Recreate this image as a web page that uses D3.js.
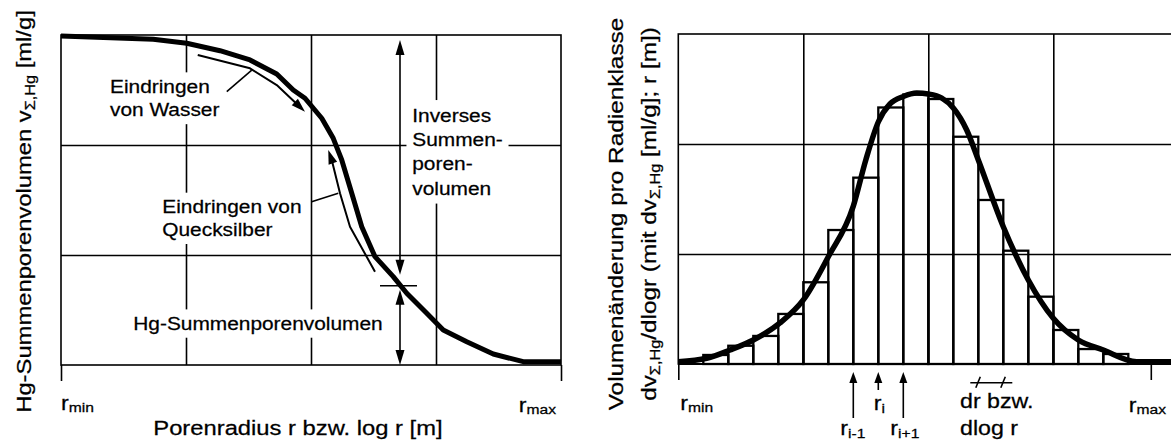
<!DOCTYPE html>
<html>
<head>
<meta charset="utf-8">
<script src="https://cdn.jsdelivr.net/npm/d3@7"></script>
<style>
  html, body { margin: 0; padding: 0; background: #fff; }
  svg text { font-family: "Liberation Sans", Arial, Helvetica, sans-serif; fill: #000; stroke: #000; stroke-width: 0.25px; white-space: pre; }
</style>
</head>
<body>
<svg id="chart" width="1171" height="443"></svg>
<script>
// ---------------- data ----------------
// Left panel: cumulative pore volume vs. log radius (x: 0..4 grid columns, y: 0..3 grid rows)
const cumX = [0, 0.738, 1.006, 1.272, 1.512, 1.726, 1.858, 1.952, 2.086, 2.178, 2.246, 2.326, 2.406, 2.512, 2.658, 2.766, 2.926, 3.058, 3.246, 3.458, 3.698, 4.0];
const cumY = [2.99, 2.961, 2.925, 2.857, 2.773, 2.645, 2.5, 2.425, 2.243, 2.061, 1.864, 1.561, 1.257, 0.985, 0.803, 0.652, 0.47, 0.318, 0.212, 0.1, 0.03, 0.03];

// water intrusion path (arrow at the last point)
const waterX = [1.094, 1.512, 1.726, 1.952];
const waterY = [2.818, 2.697, 2.545, 2.303];
// mercury intrusion path (arrow at the last point)
const mercuryX = [2.512, 2.312, 2.232, 2.166, 2.138];
const mercuryY = [0.848, 1.257, 1.561, 1.864, 1.955];

// point on the curve where inverse and Hg cumulative volumes split
const splitX = 2.712;
const splitY = 0.72;

// Right panel: volume change per radius class (20 classes, y: 0..3 grid rows)
const binValues = [0, 0.082, 0.166, 0.255, 0.455, 0.743, 1.218, 1.694, 2.332, 2.45, 2.409, 2.066, 1.491, 1.03, 0.612, 0.309, 0.136, 0.091, 0, 0];
const distX = [0, 1.136, 2.068, 3, 4.068, 5, 6, 7, 7.5, 8, 8.468, 9, 9.536, 10, 10.536, 11, 11.536, 12, 13, 14, 15, 16, 17, 18.336, 20];
const distY = [0.021, 0.052, 0.127, 0.218, 0.373, 0.582, 0.975, 1.436, 1.855, 2.2, 2.364, 2.432, 2.464, 2.455, 2.418, 2.327, 2.127, 1.855, 1.248, 0.764, 0.415, 0.218, 0.127, 0.021, 0.021];

// axis end positions and labels
const leftEnds = [0, 4];
const rightEnds = [0, 18.9];
const endSubs = ["min", "max"];
// marked class boundaries r(i-1), r(i), r(i+1)
const markEdges = [7, 8, 9];
const markSubs = ["i-1", "i", "i+1"];

// ---------------- layout ----------------
const SX = 1.16;              // horizontal stretch of the typeface
const LINE_W = 1.6;
const svg = d3.select("#chart");

const xL = d3.scaleLinear().domain([0, 4]).range([61, 561]);
const yL = d3.scaleLinear().domain([0, 3]).range([365, 35]);
const xR = d3.scaleLinear().domain([0, 20]).range([678.3, 1178.3]);
const yR = d3.scaleLinear().domain([0, 3]).range([364, 34]);

// text with optional subscripts; a segment given as [str] is a subscript
function richText(parent, x, y, lines, o) {
  const size = o.size, sub = o.subSize || Math.round(size * 0.68);
  const shift = o.shift != null ? o.shift : 4, lh = o.lh || size * 1.3;
  const g = parent.append("g")
    .attr("transform", `translate(${x},${y})${o.rotate ? ` rotate(${o.rotate})` : ""} scale(${SX},1)`);
  const t = g.append("text").attr("font-size", size).attr("text-anchor", o.anchor || "start");
  lines.forEach((line, i) => {
    let cur = 0;
    line.forEach((seg, j) => {
      const isSub = Array.isArray(seg);
      const ts = t.append("tspan").text(isSub ? seg[0] : seg);
      const target = isSub ? shift : 0;
      if (j === 0) ts.attr("x", 0).attr("y", i * lh + target);
      else ts.attr("dy", target - cur);
      cur = target;
      if (isSub) ts.attr("font-size", sub);
    });
  });
  if (o.bg != null) {
    const b = t.node().getBBox(), p = o.bg;
    g.insert("rect", "text")
      .attr("x", b.x - p).attr("y", b.y - p)
      .attr("width", b.width + 2 * p).attr("height", b.height + 2 * p)
      .attr("fill", "#fff");
  }
  return g;
}

function arrowHead(parent, tip, from, len, half) {
  const dx = tip[0] - from[0], dy = tip[1] - from[1], d = Math.hypot(dx, dy);
  const ux = dx / d, uy = dy / d;
  const bx = tip[0] - ux * len, by = tip[1] - uy * len;
  parent.append("path")
    .attr("d", `M${tip[0]},${tip[1]}L${bx - uy * half},${by + ux * half}L${bx + uy * half},${by - ux * half}Z`)
    .attr("fill", "#000");
  return [tip[0] - ux * len * 0.7, tip[1] - uy * len * 0.7];
}

function grid(g, xs, ys, xt, yt) {
  const h = ys(0) - ys(3), w = xs.range()[1] - xs.range()[0];
  g.append("g").attr("transform", `translate(0,${ys(0)})`)
    .call(d3.axisBottom(xs).tickValues(xt).tickSize(-h).tickFormat(""))
    .call(a => a.select(".domain").remove());
  g.append("g").attr("transform", `translate(${xs.range()[0]},0)`)
    .call(d3.axisLeft(ys).tickValues(yt).tickSize(-w).tickFormat(""))
    .call(a => a.select(".domain").remove());
  g.selectAll(".tick line").attr("stroke", "#000").attr("stroke-width", LINE_W);
  g.append("rect")
    .attr("x", xs.range()[0]).attr("y", ys(3))
    .attr("width", w).attr("height", h)
    .attr("fill", "none").attr("stroke", "#000").attr("stroke-width", LINE_W);
}

function endTicks(g, xs, ys, vals) {
  g.append("g").attr("transform", `translate(0,${ys(0)})`)
    .call(d3.axisBottom(xs).tickValues(vals).tickSize(16).tickFormat(""))
    .call(a => a.select(".domain").remove())
    .selectAll(".tick line").attr("stroke", "#000").attr("stroke-width", LINE_W);
}

// ================= left panel =================
const left = svg.append("g");
grid(left, xL, yL, [1, 2, 3], [1, 2]);
endTicks(left, xL, yL, leftEnds);

// annotations with white backgrounds over the grid
richText(left, xL(0.392), yL(2.473), [["Eindringen"], ["von Wasser"]], { size: 18, lh: 23.5, bg: 4 });
richText(left, xL(0.81), yL(1.379), [["Eindringen von"], ["Quecksilber"]], { size: 18, lh: 23, bg: 4 });
richText(left, xL(0.578), yL(0.318), [["Hg-Summenporenvolumen"]], { size: 18, bg: 4 });
richText(left, xL(2.81), yL(2.212), [["Inverses"], ["Summen-"], ["poren-"], ["volumen"]], { size: 18, lh: 24.4, bg: 5 });

// cumulative curve
const lineL = d3.line().x((d, i) => xL(cumX[i])).y((d, i) => yL(cumY[i]));
left.append("path").datum(cumX).attr("d", lineL)
  .attr("fill", "none").attr("stroke", "#000").attr("stroke-width", 5).attr("stroke-linejoin", "round");

// intrusion paths with arrows
function pathWithArrow(g, xs, ys, X, Y) {
  const pts = X.map((x, i) => [xs(x), ys(Y[i])]);
  const n = pts.length;
  const base = arrowHead(g, pts[n - 1], pts[n - 2], 14, 4.5);
  const body = pts.slice(0, n - 1).concat([base]);
  g.append("path").attr("d", d3.line()(body))
    .attr("fill", "none").attr("stroke", "#000").attr("stroke-width", 2).attr("stroke-linejoin", "round");
}
pathWithArrow(left, xL, yL, waterX, waterY);
pathWithArrow(left, xL, yL, mercuryX, mercuryY);

// leader lines
left.append("line").attr("x1", xL(1.326)).attr("y1", yL(2.485)).attr("x2", xL(1.526)).attr("y2", yL(2.68))
  .attr("stroke", "#000").attr("stroke-width", 1.6);
left.append("line").attr("x1", xL(2.005)).attr("y1", yL(1.485)).attr("x2", xL(2.218)).attr("y2", yL(1.561))
  .attr("stroke", "#000").attr("stroke-width", 1.6);

// split marker with double arrows
const sx = xL(splitX), sy = yL(splitY);
left.append("line").attr("x1", sx - 20).attr("x2", sx + 17).attr("y1", sy).attr("y2", sy)
  .attr("stroke", "#000").attr("stroke-width", 1.6);
function doubleArrow(g, x, yTop, yBot) {
  const a = arrowHead(g, [x, yTop], [x, yBot], 15, 4.5);
  const b = arrowHead(g, [x, yBot], [x, yTop], 15, 4.5);
  g.append("line").attr("x1", x).attr("x2", x).attr("y1", a[1]).attr("y2", b[1])
    .attr("stroke", "#000").attr("stroke-width", 1.6);
}
doubleArrow(left, sx, yL(3) + 5, sy - 11);
doubleArrow(left, sx, sy + 4, yL(0));

// axis labels
richText(left, xL(0), 410, [["r", ["min"]]], { size: 20, subSize: 13.5, shift: 2 });
richText(left, xL(4) - 5, 411.5, [["r", ["max"]]], { size: 20, subSize: 13.5, shift: 2, anchor: "end" });
richText(left, 153.3, 435, [["Porenradius r bzw. log r [m]"]], { size: 20.5 });
richText(left, 31, 211.5, [["Hg-Summenporenvolumen v", ["Σ,Hg"], " [ml/g]"]],
  { size: 20.5, subSize: 14, shift: 4, rotate: -90, anchor: "middle" });

// ================= right panel =================
const right = svg.append("g");
grid(right, xR, yR, [5, 10, 15], [1, 2]);
endTicks(right, xR, yR, rightEnds);

// class bars
right.selectAll("rect.bin")
  .data(binValues.map((v, i) => ({ v, i })).filter(d => d.v > 0))
  .join("rect").attr("class", "bin")
  .attr("x", d => xR(d.i)).attr("width", d => xR(d.i + 1) - xR(d.i))
  .attr("y", d => yR(d.v)).attr("height", d => yR(0) - yR(d.v))
  .attr("fill", "none").attr("stroke", "#000").attr("stroke-width", 2.3);

// distribution curve
const lineR = d3.line().x((d, i) => xR(distX[i])).y((d, i) => yR(distY[i])).curve(d3.curveMonotoneX);
right.append("path").datum(distX).attr("d", lineR)
  .attr("fill", "none").attr("stroke", "#000").attr("stroke-width", 5.5).attr("stroke-linejoin", "round");

// baseline on top
right.append("line").attr("x1", xR(0)).attr("x2", xR(20)).attr("y1", yR(0)).attr("y2", yR(0))
  .attr("stroke", "#000").attr("stroke-width", 2);

// class boundary arrows
const tails = [418, 390, 418];
const markLabelY = [435, 410, 435];
const markLabelDx = [-13, -4.5, -13];
markEdges.forEach((e, k) => {
  const x = xR(e);
  const base = arrowHead(right, [x, 372], [x, tails[k]], 11, 4);
  right.append("line").attr("x1", x).attr("x2", x).attr("y1", base[1]).attr("y2", tails[k])
    .attr("stroke", "#000").attr("stroke-width", 1.6);
  richText(right, x + markLabelDx[k], markLabelY[k], [["r", [markSubs[k]]]], { size: 20, subSize: 13.5, shift: 3 });
});

// class width marker
const dy0 = 382.7;
right.append("line").attr("x1", xR(12) - 8).attr("x2", xR(13) + 9).attr("y1", dy0).attr("y2", dy0)
  .attr("stroke", "#000").attr("stroke-width", 1.6);
[12, 13].forEach(e => {
  right.append("line").attr("x1", xR(e) - 2.5).attr("x2", xR(e) + 2).attr("y1", dy0 + 5).attr("y2", dy0 - 6)
    .attr("stroke", "#000").attr("stroke-width", 1.6);
});
richText(right, 960, 408, [["dr bzw."], ["dlog r"]], { size: 20, lh: 27 });

// axis labels
richText(right, xR(0) + 2, 410, [["r", ["min"]]], { size: 20, subSize: 13.5, shift: 2 });
richText(right, 1166, 411.5, [["r", ["max"]]], { size: 20, subSize: 13.5, shift: 2, anchor: "end" });
richText(right, 623.3, 214, [
  ["Volumenänderung pro Radienklasse"],
  ["dv", ["Σ,Hg"], "/dlogr (mit dv", ["Σ,Hg"], " [ml/g]; r [m])"]
], { size: 21, subSize: 14, shift: 4, lh: 33, rotate: -90, anchor: "middle" });
</script>
</body>
</html>
